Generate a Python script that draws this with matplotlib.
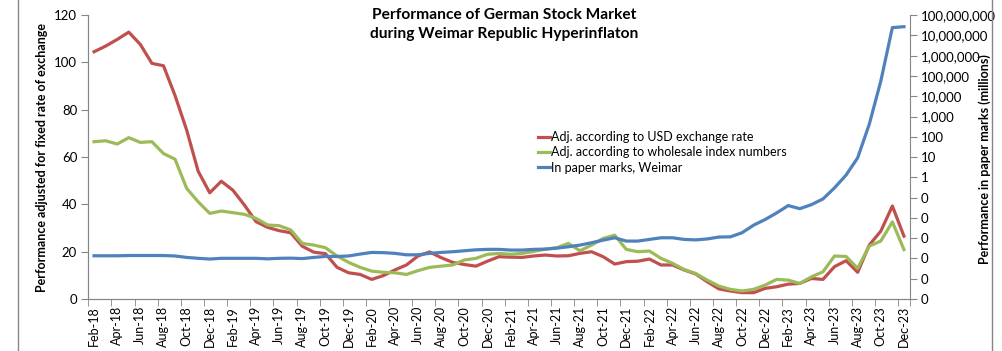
import matplotlib.pyplot as plt
from matplotlib.ticker import FixedLocator, FuncFormatter, NullLocator

plt.rcParams['font.family'] = ['Lato', 'DejaVu Sans']

# monthly values, Feb-1918 .. Dec-1923
usd_adj = [104.5, 106.9, 109.7, 112.8, 107.6, 99.6, 98.6, 86.0, 71.5, 54.0,
           44.9, 49.8, 46.0, 39.7, 32.7, 30.3, 28.9, 28.0, 22.3, 19.8,
           19.2, 13.4, 11.1, 10.4, 8.3, 9.9, 12.3, 14.4, 18.2, 19.9,
           17.5, 15.5, 14.6, 13.9, 16.0, 17.9, 17.7, 17.6, 18.2, 18.6,
           18.2, 18.3, 19.3, 20.0, 17.9, 14.8, 15.8, 16.0, 16.9, 14.4,
           14.4, 12.3, 10.6, 7.3, 4.3, 3.4, 2.7, 2.7, 4.5, 5.2,
           6.3, 6.6, 8.7, 8.3, 13.7, 16.2, 11.3, 22.8, 28.7, 39.3,
           26.6]
wholesale_adj = [66.5, 66.9, 65.5, 68.2, 66.2, 66.5, 61.5, 59.1, 46.8, 41.1,
                 36.2, 37.2, 36.5, 35.8, 34.1, 31.3, 31.0, 29.2, 23.5, 22.8,
                 21.7, 18.2, 15.5, 13.4, 11.8, 11.3, 11.1, 10.4, 12.0, 13.4,
                 13.9, 14.4, 16.5, 17.2, 18.9, 19.3, 18.9, 19.3, 20.1, 21.1,
                 21.7, 23.5, 20.4, 22.8, 25.6, 27.0, 21.0, 20.0, 20.3, 17.2,
                 15.1, 12.5, 10.8, 8.0, 5.5, 4.1, 3.4, 4.1, 5.9, 8.3,
                 8.0, 6.6, 9.4, 11.5, 18.2, 18.0, 13.0, 22.4, 24.5, 32.6,
                 20.9]
# paper marks, millions (right log axis)
paper_marks = [1.36e-4, 1.36e-4, 1.36e-4, 1.40e-4, 1.40e-4, 1.40e-4, 1.40e-4, 1.33e-4, 1.13e-4, 1.02e-4,
               9.4e-5, 1.02e-4, 1.02e-4, 1.02e-4, 1.02e-4, 9.6e-5, 1.02e-4, 1.04e-4, 9.9e-5, 1.13e-4,
               1.26e-4, 1.26e-4, 1.33e-4, 1.65e-4, 1.99e-4, 1.94e-4, 1.79e-4, 1.52e-4, 1.52e-4, 1.79e-4,
               1.99e-4, 2.15e-4, 2.40e-4, 2.67e-4, 2.82e-4, 2.82e-4, 2.60e-4, 2.60e-4, 2.82e-4, 2.90e-4,
               3.23e-4, 3.79e-4, 4.57e-4, 5.98e-4, 8.04e-4, 1.05e-3, 7.22e-4, 7.22e-4, 8.71e-4, 1.05e-3,
               1.05e-3, 8.71e-4, 8.25e-4, 9.19e-4, 1.14e-3, 1.17e-3, 1.85e-3, 4.37e-3, 8.32e-3, 1.77e-2,
               4.06e-2, 2.86e-2, 4.52e-2, 8.61e-2, 0.304, 1.30, 9.2, 407.0, 5.56e4, 2.41e7,
               2.68e7]

tick_labels = ['Feb-18', 'Apr-18', 'Jun-18', 'Aug-18', 'Oct-18', 'Dec-18',
               'Feb-19', 'Apr-19', 'Jun-19', 'Aug-19', 'Oct-19', 'Dec-19',
               'Feb-20', 'Apr-20', 'Jun-20', 'Aug-20', 'Oct-20', 'Dec-20',
               'Feb-21', 'Apr-21', 'Jun-21', 'Aug-21', 'Oct-21', 'Dec-21',
               'Feb-22', 'Apr-22', 'Jun-22', 'Aug-22', 'Oct-22', 'Dec-22',
               'Feb-23', 'Apr-23', 'Jun-23', 'Aug-23', 'Oct-23', 'Dec-23']

RED = '#C0504D'
GREEN = '#9BBB59'
BLUE = '#4F81BD'
GRAY = '#868686'

x = list(range(len(usd_adj)))

fig = plt.figure(figsize=(10.03, 3.51), dpi=100)
ax = fig.add_axes([0.088, 0.148, 0.819, 0.809])
ax2 = ax.twinx()

l1, = ax.plot(x, usd_adj, color=RED, lw=2.3, label='Adj. according to USD exchange rate')
l2, = ax.plot(x, wholesale_adj, color=GREEN, lw=2.3, label='Adj. according to wholesale index numbers')
l3, = ax2.plot(x, paper_marks, color=BLUE, lw=2.3, label='In paper marks, Weimar')

ax.set_xlim(-0.5, len(x) - 0.5)
ax.set_ylim(0, 120)
ax.set_yticks(range(0, 121, 20))

ax2.set_yscale('log')
ax2.set_ylim(1e-6, 1e8)
ax2.yaxis.set_major_locator(FixedLocator([10.0 ** k for k in range(-6, 9)]))
ax2.yaxis.set_minor_locator(NullLocator())
ax2.yaxis.set_major_formatter(FuncFormatter(lambda v, p: '0' if v < 1 else f'{v:,.0f}'))

ax.set_xticks(x[::2])
ax.set_xticklabels(tick_labels, rotation=90)
ax.set_xticks([i - 0.5 for i in x[::2]] + [len(x) - 0.5], minor=True)
ax.tick_params(axis='x', which='major', length=0, pad=5, labelsize=9)
ax.tick_params(axis='x', which='minor', length=5, color=GRAY)
ax.tick_params(axis='y', length=5, color=GRAY, labelsize=9.5, pad=3)
ax2.tick_params(axis='y', length=5, color=GRAY, labelsize=9.5, pad=3)

for a in (ax, ax2):
    a.spines['top'].set_visible(False)
    for s in ('left', 'right', 'bottom'):
        a.spines[s].set_color(GRAY)
ax.spines['right'].set_visible(False)

fig.text(0.503, 0.978, 'Performance of German Stock Market\nduring Weimar Republic Hyperinflaton',
         ha='center', va='top', fontsize=11.2, fontweight='bold', linespacing=1.45)
fig.text(0.042, 0.551, 'Performance adjusted for fixed rate of exchange', rotation=90,
         ha='center', va='center', fontsize=9, fontweight='bold')
fig.text(0.982, 0.548, 'Performance in paper marks (millions)', rotation=90,
         ha='center', va='center', fontsize=9, fontweight='bold')

fig.legend(handles=[l1, l2, l3], loc='upper left', bbox_to_anchor=(0.531, 0.64),
           frameon=False, fontsize=9, handlelength=1.0, handletextpad=0.1,
           labelspacing=0.25, borderaxespad=0)

fig.add_artist(plt.Line2D([0.018, 0.018], [0, 1], color=GRAY, lw=1))
fig.add_artist(plt.Line2D([0.989, 0.989], [0, 1], color=GRAY, lw=1))

fig.savefig('out.png', dpi=100)
